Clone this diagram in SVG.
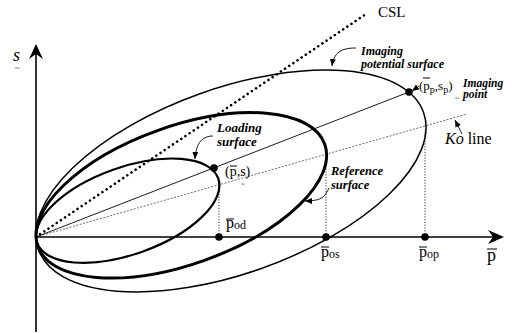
<svg xmlns="http://www.w3.org/2000/svg" width="515" height="333" viewBox="0 0 515 333">
<style>
.serif{font-family:"Liberation Serif","Times New Roman",serif;fill:#000}
.bi{font-family:"Liberation Serif","Times New Roman",serif;font-weight:bold;font-style:italic;fill:#000}
.it{font-style:italic}
.ax{stroke:#000;stroke-width:1.6;fill:none}
.ov{stroke:#000;stroke-width:1}
.vdot{stroke:#333;stroke-width:1;stroke-dasharray:1.2 1.6;fill:none}
.lead{stroke:#000;stroke-width:0.9;fill:none}
</style>
<defs>
<marker id="ah" markerUnits="userSpaceOnUse" markerWidth="8" markerHeight="8" refX="7" refY="3" orient="auto">
<path d="M0,0 L7,3 L0,6 Z" fill="#000"/>
</marker>
</defs>
<rect width="515" height="333" fill="#fff"/>

<g id="axes">
<line class="ax" x1="36" y1="332" x2="36" y2="52"/>
<path d="M36,44 L43,59 L36,54 L29,59 Z" fill="#000"/>
<line class="ax" x1="36" y1="237" x2="495" y2="237"/>
<path d="M504,237 L488,244 L493,237 L488,230 Z" fill="#000"/>
</g>

<g id="connectors">
<line x1="36" y1="237" x2="366" y2="14" stroke="#000" stroke-width="2.6" stroke-linecap="round" stroke-dasharray="0.01 5"/>
<line x1="36" y1="237" x2="467" y2="114" stroke="#444" stroke-width="0.8" stroke-dasharray="2 1.5"/>
<line x1="36" y1="237" x2="409" y2="92" stroke="#000" stroke-width="0.9"/>
<line class="vdot" x1="219" y1="237" x2="219" y2="185"/>
<line class="vdot" x1="326" y1="237" x2="326" y2="155"/>
<line class="vdot" x1="425" y1="237" x2="425" y2="130"/>
<path class="lead" d="M356,48 C345,48 334,50 332,66" marker-end="url(#ah)"/>
<path class="lead" d="M213,136 C203,136 196,142 195,159" marker-end="url(#ah)"/>
<path class="lead" d="M329,188 C325,196 323,201 305,201" marker-end="url(#ah)"/>
<line class="lead" x1="462" y1="134" x2="455" y2="120" marker-end="url(#ah)"/>
<line class="lead" x1="419" y1="86" x2="412" y2="91" marker-end="url(#ah)"/>
</g>

<g id="imaging-surface">
<ellipse cx="231" cy="181" rx="204.4" ry="92.6" transform="rotate(-19.6 231 181)" fill="none" stroke="#000" stroke-width="1.5"/>
</g>
<g id="reference-surface">
<ellipse cx="181.3" cy="195.3" rx="152.3" ry="69" transform="rotate(-19.6 181.3 195.3)" fill="none" stroke="#000" stroke-width="3"/>
</g>
<g id="loading-surface">
<ellipse cx="127.7" cy="210.7" rx="96.1" ry="43.5" transform="rotate(-19.6 127.7 210.7)" fill="none" stroke="#000" stroke-width="2.2"/>
</g>

<g id="points">
<circle cx="409" cy="92" r="3.8" fill="#000"/>
<circle cx="214" cy="168" r="3.8" fill="#000"/>
<circle cx="219" cy="237" r="3.8" fill="#000"/>
<circle cx="326" cy="237" r="3.8" fill="#000"/>
<circle cx="425" cy="237" r="3.8" fill="#000"/>
</g>

<g id="labels">
<text class="serif it" x="13" y="61" font-size="18">s</text>
<text class="serif" x="15" y="71" font-size="8">~</text>
<text class="serif" x="378" y="17" font-size="15">CSL</text>
<text class="serif" x="445" y="144" font-size="16"><tspan class="it">Ko</tspan> line</text>
<text class="bi" x="361" y="55" font-size="12">Imaging</text>
<text class="bi" x="361" y="68" font-size="12">potential surface</text>
<text class="bi" x="463" y="87" font-size="11.5">Imaging</text>
<text class="bi" x="463" y="98" font-size="11.5">point</text>
<text class="bi" x="217" y="132" font-size="13">Loading</text>
<text class="bi" x="217" y="146" font-size="13">surface</text>
<text class="bi" x="331" y="175" font-size="12.5">Reference</text>
<text class="bi" x="331" y="189" font-size="12.5">surface</text>

<text class="serif" x="419" y="90" font-size="13">(p<tspan font-size="10" dy="3">p</tspan><tspan dy="-3">,s</tspan><tspan font-size="10" dy="3">p</tspan><tspan dy="-3">)</tspan></text>
<line class="ov" x1="423" y1="78" x2="430" y2="78"/>
<text class="serif" x="455" y="100" font-size="7">~</text>

<text class="serif" x="225" y="176" font-size="14">(p,s)</text>
<line class="ov" x1="230" y1="166" x2="237" y2="166"/>
<text class="serif" x="241" y="186" font-size="7">~</text>

<text class="serif" x="226" y="228" font-size="16">p<tspan font-size="12" dy="1">od</tspan></text>
<line class="ov" x1="226" y1="219" x2="234" y2="219"/>
<text class="serif" x="321" y="257" font-size="16">p<tspan font-size="12" dy="1">os</tspan></text>
<line class="ov" x1="321" y1="247" x2="329" y2="247"/>
<text class="serif" x="419" y="257" font-size="16">p<tspan font-size="12" dy="1">op</tspan></text>
<line class="ov" x1="419" y1="247" x2="427" y2="247"/>
<text class="serif" x="487" y="261" font-size="18">p</text>
<line class="ov" x1="487" y1="249" x2="497" y2="249"/>
</g>
</svg>
